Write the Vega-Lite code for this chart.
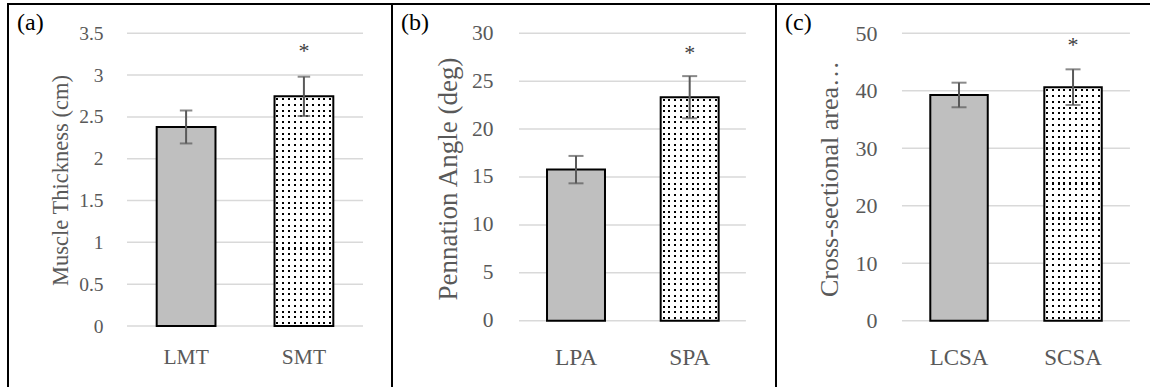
{
  "$schema": "https://vega.github.io/schema/vega-lite/v6.json",
  "padding": {"left": 7, "top": 3, "right": 0, "bottom": 0},
  "background": "white",
  "bounds": "flush",
  "spacing": 0,
  "config": {
    "view": {"stroke": "#000000", "strokeWidth": 2},
    "font": "Liberation Serif"
  },
  "datasets": {
    "thickness": [
      {"cat": "LMT", "g": "L", "mean": 2.38, "sd": 0.197, "sig": ""},
      {"cat": "SMT", "g": "S", "mean": 2.746, "sd": 0.235, "sig": "*"}
    ],
    "angle": [
      {"cat": "LPA", "g": "L", "mean": 15.77, "sd": 1.43, "sig": ""},
      {"cat": "SPA", "g": "S", "mean": 23.33, "sd": 2.2, "sig": "*"}
    ],
    "csa": [
      {"cat": "LCSA", "g": "L", "mean": 39.27, "sd": 2.14, "sig": ""},
      {"cat": "SCSA", "g": "S", "mean": 40.63, "sd": 3.1, "sig": "*"}
    ],
    "gridA": [{"v": 0}, {"v": 0.5}, {"v": 1}, {"v": 1.5}, {"v": 2}, {"v": 2.5}, {"v": 3}, {"v": 3.5}],
    "gridB": [{"v": 0}, {"v": 5}, {"v": 10}, {"v": 15}, {"v": 20}, {"v": 25}, {"v": 30}],
    "gridC": [{"v": 0}, {"v": 10}, {"v": 20}, {"v": 30}, {"v": 40}, {"v": 50}]
  },
  "hconcat": [
    {
      "width": 384, "height": 385,
      "title": {"text": "(a)", "anchor": "start", "frame": "group", "orient": "top", "offset": -29, "dx": 9, "dy": 21, "baseline": "alphabetic", "font": "Liberation Serif", "fontSize": 24, "fontWeight": "normal", "color": "#000000"},
      "data": {"name": "thickness"},
      "encoding": {
        "x": {"field": "cat", "type": "nominal",
          "scale": {"type": "band", "domain": ["LMT", "SMT"], "paddingInner": 0.501, "paddingOuter": 0.88, "align": 0.717},
          "axis": {"orient": "bottom", "offset": -32, "domain": false, "ticks": false, "grid": false, "labelPadding": 0, "labelBaseline": "middle", "labelAngle": 0, "labelFont": "Liberation Serif", "labelFontSize": 21.5, "labelColor": "#595959", "title": null}},
        "y": {"field": "mean", "type": "quantitative",
          "scale": {"domain": [-0.7533, 3.8504], "nice": false, "zero": false},
          "axis": {"orient": "left", "offset": -119, "values": [0, 0.5, 1, 1.5, 2, 2.5, 3, 3.5], "format": ".2~f", "domain": false, "ticks": false, "grid": false, "labelPadding": 24, "labelFont": "Liberation Serif", "labelFontSize": 19.5, "labelColor": "#595959",
            "title": "Muscle Thickness (cm)", "titleFont": "Liberation Serif", "titleFontSize": 22.5, "titleFontWeight": "normal", "titleColor": "#595959", "titleX": -67, "titleY": 176, "titleAngle": 270, "titleAlign": "center", "titleBaseline": "middle"}}
      },
      "layer": [
        {"data": {"name": "gridA"}, "mark": {"type": "rule", "color": "#d9d9d9", "strokeWidth": 1.5},
         "encoding": {"x": {"datum": "LMT", "type": "nominal", "bandPosition": -0.505}, "x2": {"datum": "SMT", "bandPosition": 1.505}, "y": {"field": "v", "type": "quantitative"}}},
        {"transform": [{"filter": "datum.g === 'L'"}], "mark": {"type": "bar", "fill": "#bfbfbf", "stroke": "#000000", "strokeWidth": 2}},
        {"transform": [{"filter": "datum.g === 'S'"}], "mark": {"type": "bar", "strokeWidth": 0, "fill": {"gradient": "linear", "x1": 0, "y1": 0, "x2": 0, "y2": 1, "stops": [
        {"offset": 0.008, "color": "#ffffff"}, {"offset": 0.008, "color": "#000000"}, {"offset": 0.017, "color": "#000000"}, {"offset": 0.017, "color": "#ffffff"},
        {"offset": 0.033, "color": "#ffffff"}, {"offset": 0.033, "color": "#000000"}, {"offset": 0.042, "color": "#000000"}, {"offset": 0.042, "color": "#ffffff"},
        {"offset": 0.058, "color": "#ffffff"}, {"offset": 0.058, "color": "#000000"}, {"offset": 0.067, "color": "#000000"}, {"offset": 0.067, "color": "#ffffff"},
        {"offset": 0.083, "color": "#ffffff"}, {"offset": 0.083, "color": "#000000"}, {"offset": 0.092, "color": "#000000"}, {"offset": 0.092, "color": "#ffffff"},
        {"offset": 0.108, "color": "#ffffff"}, {"offset": 0.108, "color": "#000000"}, {"offset": 0.117, "color": "#000000"}, {"offset": 0.117, "color": "#ffffff"},
        {"offset": 0.133, "color": "#ffffff"}, {"offset": 0.133, "color": "#000000"}, {"offset": 0.142, "color": "#000000"}, {"offset": 0.142, "color": "#ffffff"},
        {"offset": 0.158, "color": "#ffffff"}, {"offset": 0.158, "color": "#000000"}, {"offset": 0.167, "color": "#000000"}, {"offset": 0.167, "color": "#ffffff"},
        {"offset": 0.183, "color": "#ffffff"}, {"offset": 0.183, "color": "#000000"}, {"offset": 0.192, "color": "#000000"}, {"offset": 0.192, "color": "#ffffff"},
        {"offset": 0.208, "color": "#ffffff"}, {"offset": 0.208, "color": "#000000"}, {"offset": 0.217, "color": "#000000"}, {"offset": 0.217, "color": "#ffffff"},
        {"offset": 0.233, "color": "#ffffff"}, {"offset": 0.233, "color": "#000000"}, {"offset": 0.242, "color": "#000000"}, {"offset": 0.242, "color": "#ffffff"},
        {"offset": 0.258, "color": "#ffffff"}, {"offset": 0.258, "color": "#000000"}, {"offset": 0.267, "color": "#000000"}, {"offset": 0.267, "color": "#ffffff"},
        {"offset": 0.283, "color": "#ffffff"}, {"offset": 0.283, "color": "#000000"}, {"offset": 0.292, "color": "#000000"}, {"offset": 0.292, "color": "#ffffff"},
        {"offset": 0.308, "color": "#ffffff"}, {"offset": 0.308, "color": "#000000"}, {"offset": 0.317, "color": "#000000"}, {"offset": 0.317, "color": "#ffffff"},
        {"offset": 0.333, "color": "#ffffff"}, {"offset": 0.333, "color": "#000000"}, {"offset": 0.342, "color": "#000000"}, {"offset": 0.342, "color": "#ffffff"},
        {"offset": 0.358, "color": "#ffffff"}, {"offset": 0.358, "color": "#000000"}, {"offset": 0.367, "color": "#000000"}, {"offset": 0.367, "color": "#ffffff"},
        {"offset": 0.383, "color": "#ffffff"}, {"offset": 0.383, "color": "#000000"}, {"offset": 0.392, "color": "#000000"}, {"offset": 0.392, "color": "#ffffff"},
        {"offset": 0.408, "color": "#ffffff"}, {"offset": 0.408, "color": "#000000"}, {"offset": 0.417, "color": "#000000"}, {"offset": 0.417, "color": "#ffffff"},
        {"offset": 0.433, "color": "#ffffff"}, {"offset": 0.433, "color": "#000000"}, {"offset": 0.442, "color": "#000000"}, {"offset": 0.442, "color": "#ffffff"},
        {"offset": 0.458, "color": "#ffffff"}, {"offset": 0.458, "color": "#000000"}, {"offset": 0.467, "color": "#000000"}, {"offset": 0.467, "color": "#ffffff"},
        {"offset": 0.483, "color": "#ffffff"}, {"offset": 0.483, "color": "#000000"}, {"offset": 0.492, "color": "#000000"}, {"offset": 0.492, "color": "#ffffff"},
        {"offset": 0.508, "color": "#ffffff"}, {"offset": 0.508, "color": "#000000"}, {"offset": 0.517, "color": "#000000"}, {"offset": 0.517, "color": "#ffffff"},
        {"offset": 0.533, "color": "#ffffff"}, {"offset": 0.533, "color": "#000000"}, {"offset": 0.542, "color": "#000000"}, {"offset": 0.542, "color": "#ffffff"},
        {"offset": 0.558, "color": "#ffffff"}, {"offset": 0.558, "color": "#000000"}, {"offset": 0.567, "color": "#000000"}, {"offset": 0.567, "color": "#ffffff"},
        {"offset": 0.583, "color": "#ffffff"}, {"offset": 0.583, "color": "#000000"}, {"offset": 0.592, "color": "#000000"}, {"offset": 0.592, "color": "#ffffff"},
        {"offset": 0.608, "color": "#ffffff"}, {"offset": 0.608, "color": "#000000"}, {"offset": 0.617, "color": "#000000"}, {"offset": 0.617, "color": "#ffffff"},
        {"offset": 0.633, "color": "#ffffff"}, {"offset": 0.633, "color": "#000000"}, {"offset": 0.642, "color": "#000000"}, {"offset": 0.642, "color": "#ffffff"},
        {"offset": 0.658, "color": "#ffffff"}, {"offset": 0.658, "color": "#000000"}, {"offset": 0.667, "color": "#000000"}, {"offset": 0.667, "color": "#ffffff"},
        {"offset": 0.683, "color": "#ffffff"}, {"offset": 0.683, "color": "#000000"}, {"offset": 0.692, "color": "#000000"}, {"offset": 0.692, "color": "#ffffff"},
        {"offset": 0.708, "color": "#ffffff"}, {"offset": 0.708, "color": "#000000"}, {"offset": 0.717, "color": "#000000"}, {"offset": 0.717, "color": "#ffffff"},
        {"offset": 0.733, "color": "#ffffff"}, {"offset": 0.733, "color": "#000000"}, {"offset": 0.742, "color": "#000000"}, {"offset": 0.742, "color": "#ffffff"},
        {"offset": 0.758, "color": "#ffffff"}, {"offset": 0.758, "color": "#000000"}, {"offset": 0.767, "color": "#000000"}, {"offset": 0.767, "color": "#ffffff"},
        {"offset": 0.783, "color": "#ffffff"}, {"offset": 0.783, "color": "#000000"}, {"offset": 0.792, "color": "#000000"}, {"offset": 0.792, "color": "#ffffff"},
        {"offset": 0.808, "color": "#ffffff"}, {"offset": 0.808, "color": "#000000"}, {"offset": 0.817, "color": "#000000"}, {"offset": 0.817, "color": "#ffffff"},
        {"offset": 0.833, "color": "#ffffff"}, {"offset": 0.833, "color": "#000000"}, {"offset": 0.842, "color": "#000000"}, {"offset": 0.842, "color": "#ffffff"},
        {"offset": 0.858, "color": "#ffffff"}, {"offset": 0.858, "color": "#000000"}, {"offset": 0.867, "color": "#000000"}, {"offset": 0.867, "color": "#ffffff"},
        {"offset": 0.883, "color": "#ffffff"}, {"offset": 0.883, "color": "#000000"}, {"offset": 0.892, "color": "#000000"}, {"offset": 0.892, "color": "#ffffff"},
        {"offset": 0.908, "color": "#ffffff"}, {"offset": 0.908, "color": "#000000"}, {"offset": 0.917, "color": "#000000"}, {"offset": 0.917, "color": "#ffffff"},
        {"offset": 0.933, "color": "#ffffff"}, {"offset": 0.933, "color": "#000000"}, {"offset": 0.942, "color": "#000000"}, {"offset": 0.942, "color": "#ffffff"},
        {"offset": 0.958, "color": "#ffffff"}, {"offset": 0.958, "color": "#000000"}, {"offset": 0.967, "color": "#000000"}, {"offset": 0.967, "color": "#ffffff"},
        {"offset": 0.983, "color": "#ffffff"}, {"offset": 0.983, "color": "#000000"}, {"offset": 0.992, "color": "#000000"}, {"offset": 0.992, "color": "#ffffff"}
        ]}}},
        {"transform": [{"filter": "datum.g === 'S'"}], "mark": {"type": "bar", "stroke": "#000000", "strokeWidth": 2, "fill": {"gradient": "linear", "x1": 0, "y1": 0, "x2": 1, "y2": 0, "stops": [
        {"offset": 0.033, "color": "rgba(255,255,255,1)"}, {"offset": 0.033, "color": "rgba(255,255,255,0)"}, {"offset": 0.067, "color": "rgba(255,255,255,0)"}, {"offset": 0.067, "color": "rgba(255,255,255,1)"},
        {"offset": 0.133, "color": "rgba(255,255,255,1)"}, {"offset": 0.133, "color": "rgba(255,255,255,0)"}, {"offset": 0.167, "color": "rgba(255,255,255,0)"}, {"offset": 0.167, "color": "rgba(255,255,255,1)"},
        {"offset": 0.233, "color": "rgba(255,255,255,1)"}, {"offset": 0.233, "color": "rgba(255,255,255,0)"}, {"offset": 0.267, "color": "rgba(255,255,255,0)"}, {"offset": 0.267, "color": "rgba(255,255,255,1)"},
        {"offset": 0.333, "color": "rgba(255,255,255,1)"}, {"offset": 0.333, "color": "rgba(255,255,255,0)"}, {"offset": 0.367, "color": "rgba(255,255,255,0)"}, {"offset": 0.367, "color": "rgba(255,255,255,1)"},
        {"offset": 0.433, "color": "rgba(255,255,255,1)"}, {"offset": 0.433, "color": "rgba(255,255,255,0)"}, {"offset": 0.467, "color": "rgba(255,255,255,0)"}, {"offset": 0.467, "color": "rgba(255,255,255,1)"},
        {"offset": 0.533, "color": "rgba(255,255,255,1)"}, {"offset": 0.533, "color": "rgba(255,255,255,0)"}, {"offset": 0.567, "color": "rgba(255,255,255,0)"}, {"offset": 0.567, "color": "rgba(255,255,255,1)"},
        {"offset": 0.633, "color": "rgba(255,255,255,1)"}, {"offset": 0.633, "color": "rgba(255,255,255,0)"}, {"offset": 0.667, "color": "rgba(255,255,255,0)"}, {"offset": 0.667, "color": "rgba(255,255,255,1)"},
        {"offset": 0.733, "color": "rgba(255,255,255,1)"}, {"offset": 0.733, "color": "rgba(255,255,255,0)"}, {"offset": 0.767, "color": "rgba(255,255,255,0)"}, {"offset": 0.767, "color": "rgba(255,255,255,1)"},
        {"offset": 0.833, "color": "rgba(255,255,255,1)"}, {"offset": 0.833, "color": "rgba(255,255,255,0)"}, {"offset": 0.867, "color": "rgba(255,255,255,0)"}, {"offset": 0.867, "color": "rgba(255,255,255,1)"},
        {"offset": 0.933, "color": "rgba(255,255,255,1)"}, {"offset": 0.933, "color": "rgba(255,255,255,0)"}, {"offset": 0.967, "color": "rgba(255,255,255,0)"}, {"offset": 0.967, "color": "rgba(255,255,255,1)"}
        ]}}},
        {"mark": {"type": "errorbar", "thickness": 2, "ticks": {"size": 12.5, "thickness": 2, "color": "#595959"}, "rule": {"color": "#595959", "strokeWidth": 2}},
         "encoding": {"y": {"field": "mean", "type": "quantitative"}, "yError": {"field": "sd"}}},
        {"mark": {"type": "text", "dy": -38, "baseline": "alphabetic", "font": "Liberation Serif", "fontSize": 22, "fill": "#404040"},
         "encoding": {"text": {"field": "sig"}}}
      ]
    },
    {
      "width": 384, "height": 385,
      "title": {"text": "(b)", "anchor": "start", "frame": "group", "orient": "top", "offset": -29, "dx": 9, "dy": 21, "baseline": "alphabetic", "font": "Liberation Serif", "fontSize": 24, "fontWeight": "normal", "color": "#000000"},
      "data": {"name": "angle"},
      "encoding": {
        "x": {"field": "cat", "type": "nominal",
          "scale": {"type": "band", "domain": ["LPA", "SPA"], "paddingInner": 0.49, "paddingOuter": 0.934, "align": 0.73},
          "axis": {"orient": "bottom", "offset": -32, "domain": false, "ticks": false, "grid": false, "labelPadding": 0, "labelBaseline": "middle", "labelAngle": 0, "labelFont": "Liberation Serif", "labelFontSize": 23.5, "labelColor": "#595959", "title": null}},
        "y": {"field": "mean", "type": "quantitative",
          "scale": {"domain": [-7.129, 33.058], "nice": false, "zero": false},
          "axis": {"orient": "left", "offset": -127, "values": [0, 5, 10, 15, 20, 25, 30], "format": ".2~f", "domain": false, "ticks": false, "grid": false, "labelPadding": 26, "labelFont": "Liberation Serif", "labelFontSize": 21.5, "labelColor": "#595959",
            "title": "Pennation Angle (deg)", "titleFont": "Liberation Serif", "titleFontSize": 27, "titleFontWeight": "normal", "titleColor": "#595959", "titleX": -71, "titleY": 174.5, "titleAngle": 270, "titleAlign": "center", "titleBaseline": "middle"}}
      },
      "layer": [
        {"data": {"name": "gridB"}, "mark": {"type": "rule", "color": "#d9d9d9", "strokeWidth": 1.5},
         "encoding": {"x": {"datum": "LPA", "type": "nominal", "bandPosition": -0.483}, "x2": {"datum": "SPA", "bandPosition": 1.47}, "y": {"field": "v", "type": "quantitative"}}},
        {"transform": [{"filter": "datum.g === 'L'"}], "mark": {"type": "bar", "fill": "#bfbfbf", "stroke": "#000000", "strokeWidth": 2}},
        {"transform": [{"filter": "datum.g === 'S'"}], "mark": {"type": "bar", "strokeWidth": 0, "fill": {"gradient": "linear", "x1": 0, "y1": 0, "x2": 0, "y2": 1, "stops": [
        {"offset": 0.008, "color": "#ffffff"}, {"offset": 0.008, "color": "#000000"}, {"offset": 0.017, "color": "#000000"}, {"offset": 0.017, "color": "#ffffff"},
        {"offset": 0.033, "color": "#ffffff"}, {"offset": 0.033, "color": "#000000"}, {"offset": 0.042, "color": "#000000"}, {"offset": 0.042, "color": "#ffffff"},
        {"offset": 0.058, "color": "#ffffff"}, {"offset": 0.058, "color": "#000000"}, {"offset": 0.067, "color": "#000000"}, {"offset": 0.067, "color": "#ffffff"},
        {"offset": 0.083, "color": "#ffffff"}, {"offset": 0.083, "color": "#000000"}, {"offset": 0.092, "color": "#000000"}, {"offset": 0.092, "color": "#ffffff"},
        {"offset": 0.108, "color": "#ffffff"}, {"offset": 0.108, "color": "#000000"}, {"offset": 0.117, "color": "#000000"}, {"offset": 0.117, "color": "#ffffff"},
        {"offset": 0.133, "color": "#ffffff"}, {"offset": 0.133, "color": "#000000"}, {"offset": 0.142, "color": "#000000"}, {"offset": 0.142, "color": "#ffffff"},
        {"offset": 0.158, "color": "#ffffff"}, {"offset": 0.158, "color": "#000000"}, {"offset": 0.167, "color": "#000000"}, {"offset": 0.167, "color": "#ffffff"},
        {"offset": 0.183, "color": "#ffffff"}, {"offset": 0.183, "color": "#000000"}, {"offset": 0.192, "color": "#000000"}, {"offset": 0.192, "color": "#ffffff"},
        {"offset": 0.208, "color": "#ffffff"}, {"offset": 0.208, "color": "#000000"}, {"offset": 0.217, "color": "#000000"}, {"offset": 0.217, "color": "#ffffff"},
        {"offset": 0.233, "color": "#ffffff"}, {"offset": 0.233, "color": "#000000"}, {"offset": 0.242, "color": "#000000"}, {"offset": 0.242, "color": "#ffffff"},
        {"offset": 0.258, "color": "#ffffff"}, {"offset": 0.258, "color": "#000000"}, {"offset": 0.267, "color": "#000000"}, {"offset": 0.267, "color": "#ffffff"},
        {"offset": 0.283, "color": "#ffffff"}, {"offset": 0.283, "color": "#000000"}, {"offset": 0.292, "color": "#000000"}, {"offset": 0.292, "color": "#ffffff"},
        {"offset": 0.308, "color": "#ffffff"}, {"offset": 0.308, "color": "#000000"}, {"offset": 0.317, "color": "#000000"}, {"offset": 0.317, "color": "#ffffff"},
        {"offset": 0.333, "color": "#ffffff"}, {"offset": 0.333, "color": "#000000"}, {"offset": 0.342, "color": "#000000"}, {"offset": 0.342, "color": "#ffffff"},
        {"offset": 0.358, "color": "#ffffff"}, {"offset": 0.358, "color": "#000000"}, {"offset": 0.367, "color": "#000000"}, {"offset": 0.367, "color": "#ffffff"},
        {"offset": 0.383, "color": "#ffffff"}, {"offset": 0.383, "color": "#000000"}, {"offset": 0.392, "color": "#000000"}, {"offset": 0.392, "color": "#ffffff"},
        {"offset": 0.408, "color": "#ffffff"}, {"offset": 0.408, "color": "#000000"}, {"offset": 0.417, "color": "#000000"}, {"offset": 0.417, "color": "#ffffff"},
        {"offset": 0.433, "color": "#ffffff"}, {"offset": 0.433, "color": "#000000"}, {"offset": 0.442, "color": "#000000"}, {"offset": 0.442, "color": "#ffffff"},
        {"offset": 0.458, "color": "#ffffff"}, {"offset": 0.458, "color": "#000000"}, {"offset": 0.467, "color": "#000000"}, {"offset": 0.467, "color": "#ffffff"},
        {"offset": 0.483, "color": "#ffffff"}, {"offset": 0.483, "color": "#000000"}, {"offset": 0.492, "color": "#000000"}, {"offset": 0.492, "color": "#ffffff"},
        {"offset": 0.508, "color": "#ffffff"}, {"offset": 0.508, "color": "#000000"}, {"offset": 0.517, "color": "#000000"}, {"offset": 0.517, "color": "#ffffff"},
        {"offset": 0.533, "color": "#ffffff"}, {"offset": 0.533, "color": "#000000"}, {"offset": 0.542, "color": "#000000"}, {"offset": 0.542, "color": "#ffffff"},
        {"offset": 0.558, "color": "#ffffff"}, {"offset": 0.558, "color": "#000000"}, {"offset": 0.567, "color": "#000000"}, {"offset": 0.567, "color": "#ffffff"},
        {"offset": 0.583, "color": "#ffffff"}, {"offset": 0.583, "color": "#000000"}, {"offset": 0.592, "color": "#000000"}, {"offset": 0.592, "color": "#ffffff"},
        {"offset": 0.608, "color": "#ffffff"}, {"offset": 0.608, "color": "#000000"}, {"offset": 0.617, "color": "#000000"}, {"offset": 0.617, "color": "#ffffff"},
        {"offset": 0.633, "color": "#ffffff"}, {"offset": 0.633, "color": "#000000"}, {"offset": 0.642, "color": "#000000"}, {"offset": 0.642, "color": "#ffffff"},
        {"offset": 0.658, "color": "#ffffff"}, {"offset": 0.658, "color": "#000000"}, {"offset": 0.667, "color": "#000000"}, {"offset": 0.667, "color": "#ffffff"},
        {"offset": 0.683, "color": "#ffffff"}, {"offset": 0.683, "color": "#000000"}, {"offset": 0.692, "color": "#000000"}, {"offset": 0.692, "color": "#ffffff"},
        {"offset": 0.708, "color": "#ffffff"}, {"offset": 0.708, "color": "#000000"}, {"offset": 0.717, "color": "#000000"}, {"offset": 0.717, "color": "#ffffff"},
        {"offset": 0.733, "color": "#ffffff"}, {"offset": 0.733, "color": "#000000"}, {"offset": 0.742, "color": "#000000"}, {"offset": 0.742, "color": "#ffffff"},
        {"offset": 0.758, "color": "#ffffff"}, {"offset": 0.758, "color": "#000000"}, {"offset": 0.767, "color": "#000000"}, {"offset": 0.767, "color": "#ffffff"},
        {"offset": 0.783, "color": "#ffffff"}, {"offset": 0.783, "color": "#000000"}, {"offset": 0.792, "color": "#000000"}, {"offset": 0.792, "color": "#ffffff"},
        {"offset": 0.808, "color": "#ffffff"}, {"offset": 0.808, "color": "#000000"}, {"offset": 0.817, "color": "#000000"}, {"offset": 0.817, "color": "#ffffff"},
        {"offset": 0.833, "color": "#ffffff"}, {"offset": 0.833, "color": "#000000"}, {"offset": 0.842, "color": "#000000"}, {"offset": 0.842, "color": "#ffffff"},
        {"offset": 0.858, "color": "#ffffff"}, {"offset": 0.858, "color": "#000000"}, {"offset": 0.867, "color": "#000000"}, {"offset": 0.867, "color": "#ffffff"},
        {"offset": 0.883, "color": "#ffffff"}, {"offset": 0.883, "color": "#000000"}, {"offset": 0.892, "color": "#000000"}, {"offset": 0.892, "color": "#ffffff"},
        {"offset": 0.908, "color": "#ffffff"}, {"offset": 0.908, "color": "#000000"}, {"offset": 0.917, "color": "#000000"}, {"offset": 0.917, "color": "#ffffff"},
        {"offset": 0.933, "color": "#ffffff"}, {"offset": 0.933, "color": "#000000"}, {"offset": 0.942, "color": "#000000"}, {"offset": 0.942, "color": "#ffffff"},
        {"offset": 0.958, "color": "#ffffff"}, {"offset": 0.958, "color": "#000000"}, {"offset": 0.967, "color": "#000000"}, {"offset": 0.967, "color": "#ffffff"},
        {"offset": 0.983, "color": "#ffffff"}, {"offset": 0.983, "color": "#000000"}, {"offset": 0.992, "color": "#000000"}, {"offset": 0.992, "color": "#ffffff"}
        ]}}},
        {"transform": [{"filter": "datum.g === 'S'"}], "mark": {"type": "bar", "stroke": "#000000", "strokeWidth": 2, "fill": {"gradient": "linear", "x1": 0, "y1": 0, "x2": 1, "y2": 0, "stops": [
        {"offset": 0.033, "color": "rgba(255,255,255,1)"}, {"offset": 0.033, "color": "rgba(255,255,255,0)"}, {"offset": 0.067, "color": "rgba(255,255,255,0)"}, {"offset": 0.067, "color": "rgba(255,255,255,1)"},
        {"offset": 0.133, "color": "rgba(255,255,255,1)"}, {"offset": 0.133, "color": "rgba(255,255,255,0)"}, {"offset": 0.167, "color": "rgba(255,255,255,0)"}, {"offset": 0.167, "color": "rgba(255,255,255,1)"},
        {"offset": 0.233, "color": "rgba(255,255,255,1)"}, {"offset": 0.233, "color": "rgba(255,255,255,0)"}, {"offset": 0.267, "color": "rgba(255,255,255,0)"}, {"offset": 0.267, "color": "rgba(255,255,255,1)"},
        {"offset": 0.333, "color": "rgba(255,255,255,1)"}, {"offset": 0.333, "color": "rgba(255,255,255,0)"}, {"offset": 0.367, "color": "rgba(255,255,255,0)"}, {"offset": 0.367, "color": "rgba(255,255,255,1)"},
        {"offset": 0.433, "color": "rgba(255,255,255,1)"}, {"offset": 0.433, "color": "rgba(255,255,255,0)"}, {"offset": 0.467, "color": "rgba(255,255,255,0)"}, {"offset": 0.467, "color": "rgba(255,255,255,1)"},
        {"offset": 0.533, "color": "rgba(255,255,255,1)"}, {"offset": 0.533, "color": "rgba(255,255,255,0)"}, {"offset": 0.567, "color": "rgba(255,255,255,0)"}, {"offset": 0.567, "color": "rgba(255,255,255,1)"},
        {"offset": 0.633, "color": "rgba(255,255,255,1)"}, {"offset": 0.633, "color": "rgba(255,255,255,0)"}, {"offset": 0.667, "color": "rgba(255,255,255,0)"}, {"offset": 0.667, "color": "rgba(255,255,255,1)"},
        {"offset": 0.733, "color": "rgba(255,255,255,1)"}, {"offset": 0.733, "color": "rgba(255,255,255,0)"}, {"offset": 0.767, "color": "rgba(255,255,255,0)"}, {"offset": 0.767, "color": "rgba(255,255,255,1)"},
        {"offset": 0.833, "color": "rgba(255,255,255,1)"}, {"offset": 0.833, "color": "rgba(255,255,255,0)"}, {"offset": 0.867, "color": "rgba(255,255,255,0)"}, {"offset": 0.867, "color": "rgba(255,255,255,1)"},
        {"offset": 0.933, "color": "rgba(255,255,255,1)"}, {"offset": 0.933, "color": "rgba(255,255,255,0)"}, {"offset": 0.967, "color": "rgba(255,255,255,0)"}, {"offset": 0.967, "color": "rgba(255,255,255,1)"}
        ]}}},
        {"mark": {"type": "errorbar", "thickness": 2, "ticks": {"size": 15, "thickness": 2, "color": "#595959"}, "rule": {"color": "#595959", "strokeWidth": 2}},
         "encoding": {"y": {"field": "mean", "type": "quantitative"}, "yError": {"field": "sd"}}},
        {"mark": {"type": "text", "dy": -37, "baseline": "alphabetic", "font": "Liberation Serif", "fontSize": 22, "fill": "#404040"},
         "encoding": {"text": {"field": "sig"}}}
      ]
    },
    {
      "width": 384, "height": 385,
      "title": {"text": "(c)", "anchor": "start", "frame": "group", "orient": "top", "offset": -29, "dx": 9, "dy": 21, "baseline": "alphabetic", "font": "Liberation Serif", "fontSize": 24, "fontWeight": "normal", "color": "#000000"},
      "data": {"name": "csa"},
      "encoding": {
        "x": {"field": "cat", "type": "nominal",
          "scale": {"type": "band", "domain": ["LCSA", "SCSA"], "paddingInner": 0.496, "paddingOuter": 0.932, "align": 0.726},
          "axis": {"orient": "bottom", "offset": -32, "domain": false, "ticks": false, "grid": false, "labelPadding": 0, "labelBaseline": "middle", "labelAngle": 0, "labelFont": "Liberation Serif", "labelFontSize": 23, "labelColor": "#595959", "title": null}},
        "y": {"field": "mean", "type": "quantitative",
          "scale": {"domain": [-11.882, 55.097], "nice": false, "zero": false},
          "axis": {"orient": "left", "offset": -126, "values": [0, 10, 20, 30, 40, 50], "format": ".2~f", "domain": false, "ticks": false, "grid": false, "labelPadding": 25, "labelFont": "Liberation Serif", "labelFontSize": 22, "labelColor": "#595959",
            "title": "Cross-sectional area…", "titleFont": "Liberation Serif", "titleFontSize": 26, "titleFontWeight": "normal", "titleColor": "#595959", "titleX": -73, "titleY": 174.5, "titleAngle": 270, "titleAlign": "center", "titleBaseline": "middle"}}
      },
      "layer": [
        {"data": {"name": "gridC"}, "mark": {"type": "rule", "color": "#d9d9d9", "strokeWidth": 1.5},
         "encoding": {"x": {"datum": "LCSA", "type": "nominal", "bandPosition": -0.493}, "x2": {"datum": "SCSA", "bandPosition": 1.49}, "y": {"field": "v", "type": "quantitative"}}},
        {"transform": [{"filter": "datum.g === 'L'"}], "mark": {"type": "bar", "fill": "#bfbfbf", "stroke": "#000000", "strokeWidth": 2}},
        {"transform": [{"filter": "datum.g === 'S'"}], "mark": {"type": "bar", "strokeWidth": 0, "fill": {"gradient": "linear", "x1": 0, "y1": 0, "x2": 0, "y2": 1, "stops": [
        {"offset": 0.008, "color": "#ffffff"}, {"offset": 0.008, "color": "#000000"}, {"offset": 0.017, "color": "#000000"}, {"offset": 0.017, "color": "#ffffff"},
        {"offset": 0.033, "color": "#ffffff"}, {"offset": 0.033, "color": "#000000"}, {"offset": 0.042, "color": "#000000"}, {"offset": 0.042, "color": "#ffffff"},
        {"offset": 0.058, "color": "#ffffff"}, {"offset": 0.058, "color": "#000000"}, {"offset": 0.067, "color": "#000000"}, {"offset": 0.067, "color": "#ffffff"},
        {"offset": 0.083, "color": "#ffffff"}, {"offset": 0.083, "color": "#000000"}, {"offset": 0.092, "color": "#000000"}, {"offset": 0.092, "color": "#ffffff"},
        {"offset": 0.108, "color": "#ffffff"}, {"offset": 0.108, "color": "#000000"}, {"offset": 0.117, "color": "#000000"}, {"offset": 0.117, "color": "#ffffff"},
        {"offset": 0.133, "color": "#ffffff"}, {"offset": 0.133, "color": "#000000"}, {"offset": 0.142, "color": "#000000"}, {"offset": 0.142, "color": "#ffffff"},
        {"offset": 0.158, "color": "#ffffff"}, {"offset": 0.158, "color": "#000000"}, {"offset": 0.167, "color": "#000000"}, {"offset": 0.167, "color": "#ffffff"},
        {"offset": 0.183, "color": "#ffffff"}, {"offset": 0.183, "color": "#000000"}, {"offset": 0.192, "color": "#000000"}, {"offset": 0.192, "color": "#ffffff"},
        {"offset": 0.208, "color": "#ffffff"}, {"offset": 0.208, "color": "#000000"}, {"offset": 0.217, "color": "#000000"}, {"offset": 0.217, "color": "#ffffff"},
        {"offset": 0.233, "color": "#ffffff"}, {"offset": 0.233, "color": "#000000"}, {"offset": 0.242, "color": "#000000"}, {"offset": 0.242, "color": "#ffffff"},
        {"offset": 0.258, "color": "#ffffff"}, {"offset": 0.258, "color": "#000000"}, {"offset": 0.267, "color": "#000000"}, {"offset": 0.267, "color": "#ffffff"},
        {"offset": 0.283, "color": "#ffffff"}, {"offset": 0.283, "color": "#000000"}, {"offset": 0.292, "color": "#000000"}, {"offset": 0.292, "color": "#ffffff"},
        {"offset": 0.308, "color": "#ffffff"}, {"offset": 0.308, "color": "#000000"}, {"offset": 0.317, "color": "#000000"}, {"offset": 0.317, "color": "#ffffff"},
        {"offset": 0.333, "color": "#ffffff"}, {"offset": 0.333, "color": "#000000"}, {"offset": 0.342, "color": "#000000"}, {"offset": 0.342, "color": "#ffffff"},
        {"offset": 0.358, "color": "#ffffff"}, {"offset": 0.358, "color": "#000000"}, {"offset": 0.367, "color": "#000000"}, {"offset": 0.367, "color": "#ffffff"},
        {"offset": 0.383, "color": "#ffffff"}, {"offset": 0.383, "color": "#000000"}, {"offset": 0.392, "color": "#000000"}, {"offset": 0.392, "color": "#ffffff"},
        {"offset": 0.408, "color": "#ffffff"}, {"offset": 0.408, "color": "#000000"}, {"offset": 0.417, "color": "#000000"}, {"offset": 0.417, "color": "#ffffff"},
        {"offset": 0.433, "color": "#ffffff"}, {"offset": 0.433, "color": "#000000"}, {"offset": 0.442, "color": "#000000"}, {"offset": 0.442, "color": "#ffffff"},
        {"offset": 0.458, "color": "#ffffff"}, {"offset": 0.458, "color": "#000000"}, {"offset": 0.467, "color": "#000000"}, {"offset": 0.467, "color": "#ffffff"},
        {"offset": 0.483, "color": "#ffffff"}, {"offset": 0.483, "color": "#000000"}, {"offset": 0.492, "color": "#000000"}, {"offset": 0.492, "color": "#ffffff"},
        {"offset": 0.508, "color": "#ffffff"}, {"offset": 0.508, "color": "#000000"}, {"offset": 0.517, "color": "#000000"}, {"offset": 0.517, "color": "#ffffff"},
        {"offset": 0.533, "color": "#ffffff"}, {"offset": 0.533, "color": "#000000"}, {"offset": 0.542, "color": "#000000"}, {"offset": 0.542, "color": "#ffffff"},
        {"offset": 0.558, "color": "#ffffff"}, {"offset": 0.558, "color": "#000000"}, {"offset": 0.567, "color": "#000000"}, {"offset": 0.567, "color": "#ffffff"},
        {"offset": 0.583, "color": "#ffffff"}, {"offset": 0.583, "color": "#000000"}, {"offset": 0.592, "color": "#000000"}, {"offset": 0.592, "color": "#ffffff"},
        {"offset": 0.608, "color": "#ffffff"}, {"offset": 0.608, "color": "#000000"}, {"offset": 0.617, "color": "#000000"}, {"offset": 0.617, "color": "#ffffff"},
        {"offset": 0.633, "color": "#ffffff"}, {"offset": 0.633, "color": "#000000"}, {"offset": 0.642, "color": "#000000"}, {"offset": 0.642, "color": "#ffffff"},
        {"offset": 0.658, "color": "#ffffff"}, {"offset": 0.658, "color": "#000000"}, {"offset": 0.667, "color": "#000000"}, {"offset": 0.667, "color": "#ffffff"},
        {"offset": 0.683, "color": "#ffffff"}, {"offset": 0.683, "color": "#000000"}, {"offset": 0.692, "color": "#000000"}, {"offset": 0.692, "color": "#ffffff"},
        {"offset": 0.708, "color": "#ffffff"}, {"offset": 0.708, "color": "#000000"}, {"offset": 0.717, "color": "#000000"}, {"offset": 0.717, "color": "#ffffff"},
        {"offset": 0.733, "color": "#ffffff"}, {"offset": 0.733, "color": "#000000"}, {"offset": 0.742, "color": "#000000"}, {"offset": 0.742, "color": "#ffffff"},
        {"offset": 0.758, "color": "#ffffff"}, {"offset": 0.758, "color": "#000000"}, {"offset": 0.767, "color": "#000000"}, {"offset": 0.767, "color": "#ffffff"},
        {"offset": 0.783, "color": "#ffffff"}, {"offset": 0.783, "color": "#000000"}, {"offset": 0.792, "color": "#000000"}, {"offset": 0.792, "color": "#ffffff"},
        {"offset": 0.808, "color": "#ffffff"}, {"offset": 0.808, "color": "#000000"}, {"offset": 0.817, "color": "#000000"}, {"offset": 0.817, "color": "#ffffff"},
        {"offset": 0.833, "color": "#ffffff"}, {"offset": 0.833, "color": "#000000"}, {"offset": 0.842, "color": "#000000"}, {"offset": 0.842, "color": "#ffffff"},
        {"offset": 0.858, "color": "#ffffff"}, {"offset": 0.858, "color": "#000000"}, {"offset": 0.867, "color": "#000000"}, {"offset": 0.867, "color": "#ffffff"},
        {"offset": 0.883, "color": "#ffffff"}, {"offset": 0.883, "color": "#000000"}, {"offset": 0.892, "color": "#000000"}, {"offset": 0.892, "color": "#ffffff"},
        {"offset": 0.908, "color": "#ffffff"}, {"offset": 0.908, "color": "#000000"}, {"offset": 0.917, "color": "#000000"}, {"offset": 0.917, "color": "#ffffff"},
        {"offset": 0.933, "color": "#ffffff"}, {"offset": 0.933, "color": "#000000"}, {"offset": 0.942, "color": "#000000"}, {"offset": 0.942, "color": "#ffffff"},
        {"offset": 0.958, "color": "#ffffff"}, {"offset": 0.958, "color": "#000000"}, {"offset": 0.967, "color": "#000000"}, {"offset": 0.967, "color": "#ffffff"},
        {"offset": 0.983, "color": "#ffffff"}, {"offset": 0.983, "color": "#000000"}, {"offset": 0.992, "color": "#000000"}, {"offset": 0.992, "color": "#ffffff"}
        ]}}},
        {"transform": [{"filter": "datum.g === 'S'"}], "mark": {"type": "bar", "stroke": "#000000", "strokeWidth": 2, "fill": {"gradient": "linear", "x1": 0, "y1": 0, "x2": 1, "y2": 0, "stops": [
        {"offset": 0.033, "color": "rgba(255,255,255,1)"}, {"offset": 0.033, "color": "rgba(255,255,255,0)"}, {"offset": 0.067, "color": "rgba(255,255,255,0)"}, {"offset": 0.067, "color": "rgba(255,255,255,1)"},
        {"offset": 0.133, "color": "rgba(255,255,255,1)"}, {"offset": 0.133, "color": "rgba(255,255,255,0)"}, {"offset": 0.167, "color": "rgba(255,255,255,0)"}, {"offset": 0.167, "color": "rgba(255,255,255,1)"},
        {"offset": 0.233, "color": "rgba(255,255,255,1)"}, {"offset": 0.233, "color": "rgba(255,255,255,0)"}, {"offset": 0.267, "color": "rgba(255,255,255,0)"}, {"offset": 0.267, "color": "rgba(255,255,255,1)"},
        {"offset": 0.333, "color": "rgba(255,255,255,1)"}, {"offset": 0.333, "color": "rgba(255,255,255,0)"}, {"offset": 0.367, "color": "rgba(255,255,255,0)"}, {"offset": 0.367, "color": "rgba(255,255,255,1)"},
        {"offset": 0.433, "color": "rgba(255,255,255,1)"}, {"offset": 0.433, "color": "rgba(255,255,255,0)"}, {"offset": 0.467, "color": "rgba(255,255,255,0)"}, {"offset": 0.467, "color": "rgba(255,255,255,1)"},
        {"offset": 0.533, "color": "rgba(255,255,255,1)"}, {"offset": 0.533, "color": "rgba(255,255,255,0)"}, {"offset": 0.567, "color": "rgba(255,255,255,0)"}, {"offset": 0.567, "color": "rgba(255,255,255,1)"},
        {"offset": 0.633, "color": "rgba(255,255,255,1)"}, {"offset": 0.633, "color": "rgba(255,255,255,0)"}, {"offset": 0.667, "color": "rgba(255,255,255,0)"}, {"offset": 0.667, "color": "rgba(255,255,255,1)"},
        {"offset": 0.733, "color": "rgba(255,255,255,1)"}, {"offset": 0.733, "color": "rgba(255,255,255,0)"}, {"offset": 0.767, "color": "rgba(255,255,255,0)"}, {"offset": 0.767, "color": "rgba(255,255,255,1)"},
        {"offset": 0.833, "color": "rgba(255,255,255,1)"}, {"offset": 0.833, "color": "rgba(255,255,255,0)"}, {"offset": 0.867, "color": "rgba(255,255,255,0)"}, {"offset": 0.867, "color": "rgba(255,255,255,1)"},
        {"offset": 0.933, "color": "rgba(255,255,255,1)"}, {"offset": 0.933, "color": "rgba(255,255,255,0)"}, {"offset": 0.967, "color": "rgba(255,255,255,0)"}, {"offset": 0.967, "color": "rgba(255,255,255,1)"}
        ]}}},
        {"mark": {"type": "errorbar", "thickness": 2, "ticks": {"size": 15, "thickness": 2, "color": "#595959"}, "rule": {"color": "#595959", "strokeWidth": 2}},
         "encoding": {"y": {"field": "mean", "type": "quantitative"}, "yError": {"field": "sd"}}},
        {"mark": {"type": "text", "dy": -35, "baseline": "alphabetic", "font": "Liberation Serif", "fontSize": 22, "fill": "#404040"},
         "encoding": {"text": {"field": "sig"}}}
      ]
    }
  ]
}
